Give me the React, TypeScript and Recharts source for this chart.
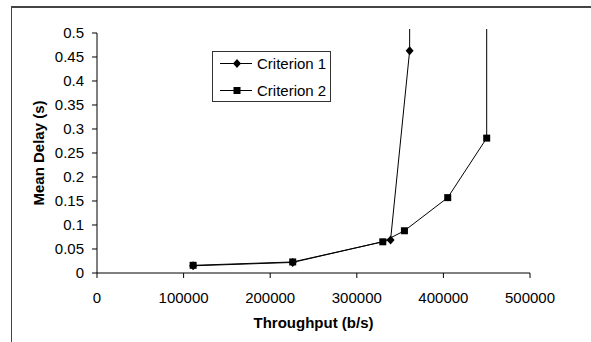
import React from 'react';
import { LineChart, Line, XAxis, YAxis, Legend, ReferenceLine } from 'recharts';

const c1X = [111000, 226000, 339000, 361000, 361500];
const c1Y = [0.015, 0.022, 0.069, 0.463, 1.0];
const c2X = [111000, 226000, 330000, 355000, 405000, 450000, 450000];
const c2Y = [0.016, 0.023, 0.065, 0.088, 0.157, 0.281, 1.0];
const xTicks = [0, 100000, 200000, 300000, 400000, 500000];
const yTicks = [0, 0.05, 0.1, 0.15, 0.2, 0.25, 0.3, 0.35, 0.4, 0.45, 0.5];
const seriesNames = ['Criterion 1', 'Criterion 2'];

const c1 = c1X.map((x, i) => ({ x, y: c1Y[i] }));
const c2 = c2X.map((x, i) => ({ x, y: c2Y[i] }));

const FONT = '"Liberation Sans", Arial, sans-serif';
const YMAX = 0.5;

const Diamond = (props: any) => {
  const { cx, cy, payload, index } = props;
  if (payload == null || payload.y > YMAX) return <g key={'d' + index} />;
  return (
    <path
      key={'d' + index}
      d={`M${cx},${cy - 4.5}L${cx + 4},${cy}L${cx},${cy + 4.5}L${cx - 4},${cy}Z`}
      fill="#000"
    />
  );
};

const Square = (props: any) => {
  const { cx, cy, payload, index } = props;
  if (payload == null || payload.y > YMAX) return <g key={'s' + index} />;
  return <rect key={'s' + index} x={cx - 3.5} y={cy - 3.5} width={7} height={7} fill="#000" />;
};

const LegendBox = () => (
  <svg width={120} height={51} style={{ display: 'block' }}>
    <rect x={0.5} y={0.5} width={118} height={50} fill="#fff" stroke="#333" strokeWidth={1} />
    <line x1={8} x2={40} y1={12.5} y2={12.5} stroke="#000" />
    <path d="M25,8L29,12.5L25,17L21,12.5Z" fill="#000" />
    <text x={45} y={18} fontFamily={FONT} fontSize={15} fill="#000">{seriesNames[0]}</text>
    <line x1={8} x2={40} y1={39.5} y2={39.5} stroke="#000" />
    <rect x={21.5} y={36} width={7} height={7} fill="#000" />
    <text x={45} y={45} fontFamily={FONT} fontSize={15} fill="#000">{seriesNames[1]}</text>
  </svg>
);

export default function App() {
  return (
    <div style={{ position: 'absolute', left: 0, top: 0, width: 591, height: 342, background: '#fff' }}>
      <div
        style={{
          position: 'absolute',
          left: 11,
          top: 6,
          width: 580,
          height: 336,
          borderTop: '2px solid #444',
          borderLeft: '1px solid #444',
        }}
      />
      <div style={{ position: 'absolute', left: 0, top: 0 }}>
        <LineChart width={591} height={342} margin={{ top: 29, right: 61, bottom: 0, left: 0 }}>
          <XAxis
            dataKey="x"
            type="number"
            domain={[0, 500000]}
            ticks={xTicks}
            allowDataOverflow
            height={69}
            tickSize={5}
            tickMargin={14}
            stroke="#000"
            tick={{ fill: '#000', fontFamily: FONT, fontSize: 15 }}
            label={{
              content: (p: any) => {
                const vb = p.viewBox;
                return (
                  <text
                    x={vb.x + vb.width / 2}
                    y={328}
                    textAnchor="middle"
                    fontFamily={FONT}
                    fontSize={15}
                    fontWeight="bold"
                    fill="#000"
                  >
                    Throughput (b/s)
                  </text>
                );
              },
            }}
          />
          <YAxis
            dataKey="y"
            type="number"
            domain={[0, 0.508333]}
            ticks={yTicks}
            allowDataOverflow
            width={97}
            tickSize={5}
            tickMargin={8}
            axisLine={false}
            stroke="#000"
            tick={{ fill: '#000', fontFamily: FONT, fontSize: 15 }}
            label={{
              content: (p: any) => {
                const vb = p.viewBox;
                const cx = 38;
                const cy = 153;
                return (
                  <text
                    x={cx}
                    y={cy}
                    transform={`rotate(-90, ${cx}, ${cy})`}
                    textAnchor="middle"
                    dominantBaseline="central"
                    fontFamily={FONT}
                    fontSize={15}
                    fontWeight="bold"
                    fill="#000"
                  >
                    Mean Delay (s)
                  </text>
                );
              },
            }}
          />
          <ReferenceLine
            segment={[
              { x: 0, y: 0 },
              { x: 0, y: 0.5 },
            ]}
            stroke="#000"
            strokeWidth={1}
            ifOverflow="visible"
          />
          <Line
            data={c1}
            dataKey="y"
            name={seriesNames[0]}
            stroke="#000"
            strokeWidth={1}
            dot={Diamond}
            activeDot={false}
            isAnimationActive={false}
          />
          <Line
            data={c2}
            dataKey="y"
            name={seriesNames[1]}
            stroke="#000"
            strokeWidth={1}
            dot={Square}
            activeDot={false}
            isAnimationActive={false}
          />
          <Legend
            layout="horizontal"
            verticalAlign="middle"
            align="center"
            wrapperStyle={{ position: 'absolute', left: 212, top: 51, width: 120, height: 51 }}
            content={() => <LegendBox />}
          />
        </LineChart>
      </div>
    </div>
  );
}
